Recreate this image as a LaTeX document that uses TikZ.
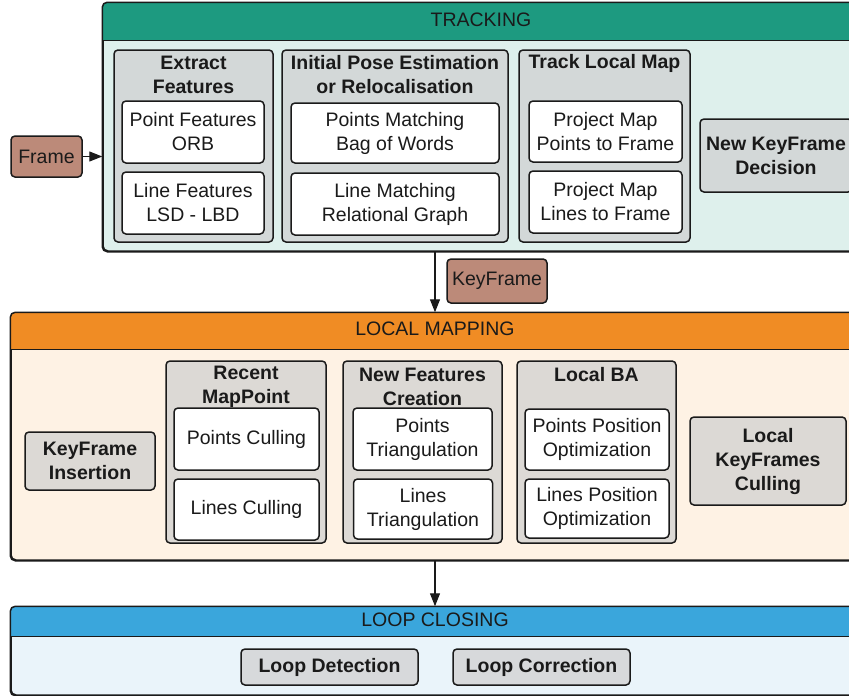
\documentclass[tikz,border=0pt]{standalone}
\usepackage{fontspec}
\setmainfont{Liberation Sans}
\usetikzlibrary{arrows.meta,calc}
\definecolor{trkhead}{RGB}{29,154,128}
\definecolor{trkbody}{RGB}{222,240,236}
\definecolor{lmhead}{RGB}{240,140,36}
\definecolor{lmbody}{RGB}{254,242,228}
\definecolor{lchead}{RGB}{58,166,220}
\definecolor{lcbody}{RGB}{234,244,250}
\definecolor{grpT}{RGB}{211,216,216}
\definecolor{grpL}{RGB}{220,217,213}
\definecolor{grpC}{RGB}{215,217,219}
\definecolor{brownbox}{RGB}{188,138,121}
\definecolor{ink}{RGB}{26,26,26}
\tikzset{
  every node/.style={font=\fontsize{19.5}{24}\selectfont, text=ink},
  outline/.style={draw=ink, line width=1.5pt},
  container/.style={outline, rounded corners=5pt, rectangle, inner sep=0pt},
  grp/.style={outline, rounded corners=4pt, rectangle, inner sep=0pt},
  wbox/.style={outline, rounded corners=4pt, fill=white, rectangle, inner sep=0pt, align=center},
  gbox/.style={outline, rounded corners=4pt, rectangle, inner sep=0pt, align=center, font=\fontsize{19.5}{24}\selectfont\bfseries},
  bbox/.style={outline, rounded corners=4pt, fill=brownbox, rectangle, inner sep=0pt, align=center},
  title/.style={align=center, inner sep=0pt, font=\fontsize{19.5}{24}\selectfont\bfseries},
  htext/.style={inner sep=0pt},
  flow/.style={draw=ink, line width=1.2pt, -{Triangle[length=13pt,width=10pt]}}
}
\begin{document}
\begin{tikzpicture}[x=1pt,y=-1pt]
\useasboundingbox (0,0) rectangle (849,696);
\clip (0,0) rectangle (849,696);
\fill[white] (0,0) rectangle (849,696);

% ---------- TRACKING ----------
\node[container, fill=trkbody, minimum width=756, minimum height=248] (trk) at (481,127) {};
\begin{scope}
  \clip[rounded corners=5pt] (trk.north west) rectangle (trk.south east);
  \fill[trkhead] (trk.north west) rectangle ($(trk.north east)+(0,38)$);
\end{scope}
\draw[outline] ($(trk.north west)+(0,38)$) -- ($(trk.north east)+(0,38)$);
\draw[outline, rounded corners=5pt] (trk.north west) rectangle (trk.south east);
\node[htext] (trkT) at (481,20) {TRACKING};

\node[grp, fill=grpT, minimum width=159, minimum height=192] (ef) at (193.5,146) {};
\node[title] (efT) at (193.5,75) {Extract\\Features};
\node[wbox, minimum width=142, minimum height=62] (pf) at (193,132) {Point Features\\ORB};
\node[wbox, minimum width=142, minimum height=62] (lf) at (193,203) {Line Features\\LSD - LBD};

\node[grp, fill=grpT, minimum width=226, minimum height=192] (ip) at (395,146) {};
\node[title] (ipT) at (395,75) {Initial Pose Estimation\\or Relocalisation};
\node[wbox, minimum width=208, minimum height=60] (pm) at (395,133) {Points Matching\\Bag of Words};
\node[wbox, minimum width=208, minimum height=62] (lm) at (395,204) {Line Matching\\Relational Graph};

\node[grp, fill=grpT, minimum width=171, minimum height=192] (tl) at (604.5,146) {};
\node[title] (tlT) at (604.5,63) {Track Local Map};
\node[wbox, minimum width=153, minimum height=61] (pmp) at (605.5,131.5) {Project Map\\Points to Frame};
\node[wbox, minimum width=153, minimum height=62] (pml) at (605.5,202) {Project Map\\Lines to Frame};

\node[gbox, fill=grpT, minimum width=152, minimum height=73] (nkd) at (776,155.5) {New KeyFrame\\Decision};

\node[bbox, minimum width=71, minimum height=41] (frame) at (46.5,156.5) {Frame};
\draw[flow] (frame.east) -- (frame.east -| trk.west);

% ---------- LOCAL MAPPING ----------
\node[container, fill=lmbody, minimum width=848, minimum height=247] (lmap) at (435,436.5) {};
\begin{scope}
  \clip[rounded corners=5pt] (lmap.north west) rectangle (lmap.south east);
  \fill[lmhead] (lmap.north west) rectangle ($(lmap.north east)+(0,37)$);
\end{scope}
\draw[outline] ($(lmap.north west)+(0,37)$) -- ($(lmap.north east)+(0,37)$);
\draw[outline, rounded corners=5pt] (lmap.north west) rectangle (lmap.south east);
\node[htext] (lmapT) at (435,329) {LOCAL MAPPING};

\node[bbox, minimum width=100, minimum height=44] (kf) at (497,281) {KeyFrame};
\draw[flow] (trk.south -| 435,0) -- (lmap.north -| 435,0);

\node[gbox, fill=grpL, minimum width=130, minimum height=58] (ki) at (90,461) {KeyFrame\\Insertion};

\node[grp, fill=grpL, minimum width=160, minimum height=182] (rm) at (246,452) {};
\node[title] (rmT) at (246,386.5) {Recent\\MapPoint};
\node[wbox, minimum width=145, minimum height=62] (pc) at (246.5,439) {Points Culling};
\node[wbox, minimum width=145, minimum height=61] (lc) at (246.5,509.5) {Lines Culling};

\node[grp, fill=grpL, minimum width=159, minimum height=182] (nf) at (422.5,452) {};
\node[title] (nfT) at (422.5,386.5) {New Features\\Creation};
\node[wbox, minimum width=139, minimum height=62] (pt) at (422.5,439) {Points\\Triangulation};
\node[wbox, minimum width=139, minimum height=60] (lt) at (423,509) {Lines\\Triangulation};

\node[grp, fill=grpL, minimum width=159, minimum height=182] (lba) at (596.5,452) {};
\node[title] (lbaT) at (596.5,375) {Local BA};
\node[wbox, minimum width=144, minimum height=61] (ppo) at (597,439.5) {Points Position\\Optimization};
\node[wbox, minimum width=144, minimum height=59] (lpo) at (597,508.5) {Lines Position\\Optimization};

\node[gbox, fill=grpL, minimum width=156, minimum height=88] (lkc) at (768,461) {Local\\KeyFrames\\Culling};

% ---------- LOOP CLOSING ----------
\node[container, fill=lcbody, minimum width=848, minimum height=88] (lcl) at (435,651) {};
\begin{scope}
  \clip[rounded corners=5pt] (lcl.north west) rectangle (lcl.south east);
  \fill[lchead] (lcl.north west) rectangle ($(lcl.north east)+(0,30)$);
\end{scope}
\draw[outline] ($(lcl.north west)+(0,30)$) -- ($(lcl.north east)+(0,30)$);
\draw[outline, rounded corners=5pt] (lcl.north west) rectangle (lcl.south east);
\node[htext] (lclT) at (435,620) {LOOP CLOSING};

\draw[flow] (lmap.south -| 435,0) -- (lcl.north -| 435,0);

\node[gbox, fill=grpC, minimum width=177, minimum height=36] (ld) at (329.5,667) {Loop Detection};
\node[gbox, fill=grpC, minimum width=177, minimum height=36] (lco) at (541.5,667) {Loop Correction};
\end{tikzpicture}
\end{document}
